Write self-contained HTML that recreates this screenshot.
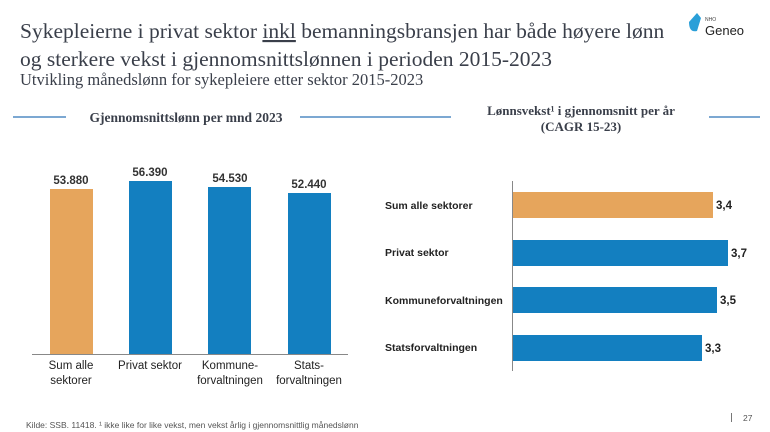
<!DOCTYPE html>
<html><head><meta charset="utf-8"><style>
body{margin:0;background:#fff;width:770px;height:432px;overflow:hidden}
svg{display:block}
.s{font-family:"Liberation Serif",serif;fill:#3a3f4a}
.a{font-family:"Liberation Sans",sans-serif;fill:#222}
</style></head><body>
<svg width="770" height="432" viewBox="0 0 770 432">
<text class="s" x="20" y="38" font-size="21.5">Sykepleierne i privat sektor <tspan text-decoration="underline">inkl</tspan> bemanningsbransjen har både høyere lønn</text>
<text class="s" x="20" y="66" font-size="21.5">og sterkere vekst i gjennomsnittslønnen i perioden 2015-2023</text>
<text class="s" x="20" y="85" font-size="16.5">Utvikling månedslønn for sykepleiere etter sektor 2015-2023</text>
<path d="M689 22 l8 -9 l4 5 l-4 13 q-8 2 -8 -9z" fill="#2a9fd8"/>
<text x="705" y="21" font-family="Liberation Sans,sans-serif" font-size="5" fill="#444">NHO</text>
<text x="705" y="35" font-family="Liberation Sans,sans-serif" font-size="13" fill="#222">Geneo</text>
<line x1="13" y1="117" x2="66" y2="117" stroke="#2e75b6" stroke-width="1.3"/>
<line x1="300" y1="117" x2="451" y2="117" stroke="#2e75b6" stroke-width="1.3"/>
<line x1="709" y1="117" x2="760" y2="117" stroke="#2e75b6" stroke-width="1.3"/>
<text class="s" x="186" y="122" font-size="13.5" font-weight="bold" text-anchor="middle">Gjennomsnittslønn per mnd 2023</text>
<text class="s" x="581" y="115" font-size="13" font-weight="bold" text-anchor="middle">Lønnsvekst¹ i gjennomsnitt per år</text>
<text class="s" x="581" y="131" font-size="13" font-weight="bold" text-anchor="middle">(CAGR 15-23)</text>
<rect x="50" y="189" width="43" height="165" fill="#e6a55c"/>
<rect x="129" y="181" width="43" height="173" fill="#137fc0"/>
<rect x="208" y="187" width="43" height="167" fill="#137fc0"/>
<rect x="288" y="193" width="43" height="161" fill="#137fc0"/>
<line x1="32" y1="354.5" x2="348" y2="354.5" stroke="#888"/>
<g class="a" font-size="11.5" text-anchor="middle">
<g font-weight="bold" fill="#333">
<text x="71" y="184">53.880</text><text x="150" y="176">56.390</text>
<text x="230" y="182">54.530</text><text x="309" y="188">52.440</text>
</g>
<text x="71" y="369">Sum alle</text><text x="71" y="384">sektorer</text>
<text x="150" y="369">Privat sektor</text>
<text x="230" y="369">Kommune-</text><text x="230" y="384">forvaltningen</text>
<text x="309" y="369">Stats-</text><text x="309" y="384">forvaltningen</text>
</g>
<line x1="512.5" y1="181" x2="512.5" y2="371" stroke="#888"/>
<rect x="513" y="192" width="200" height="26" fill="#e6a55c"/>
<rect x="513" y="240" width="215" height="26" fill="#137fc0"/>
<rect x="513" y="287" width="204" height="26" fill="#137fc0"/>
<rect x="513" y="335" width="189" height="26" fill="#137fc0"/>
<g class="a" font-size="10.5" font-weight="bold">
<text x="385" y="209">Sum alle sektorer</text>
<text x="385" y="256">Privat sektor</text>
<text x="385" y="304">Kommuneforvaltningen</text>
<text x="385" y="351">Statsforvaltningen</text>
<text x="716" y="209" font-size="11.5">3,4</text>
<text x="731" y="257" font-size="11.5">3,7</text>
<text x="720" y="304" font-size="11.5">3,5</text>
<text x="705" y="352" font-size="11.5">3,3</text>
</g>
<text x="26" y="428" font-family="Liberation Sans,sans-serif" font-size="8.5" fill="#555">Kilde: SSB. 11418. ¹ ikke like for like vekst, men vekst årlig i gjennomsnittlig månedslønn</text>
<line x1="731.5" y1="413" x2="731.5" y2="422" stroke="#777"/>
<text x="743" y="421" font-family="Liberation Sans,sans-serif" font-size="8.5" fill="#555">27</text>
</svg>
</body></html>
